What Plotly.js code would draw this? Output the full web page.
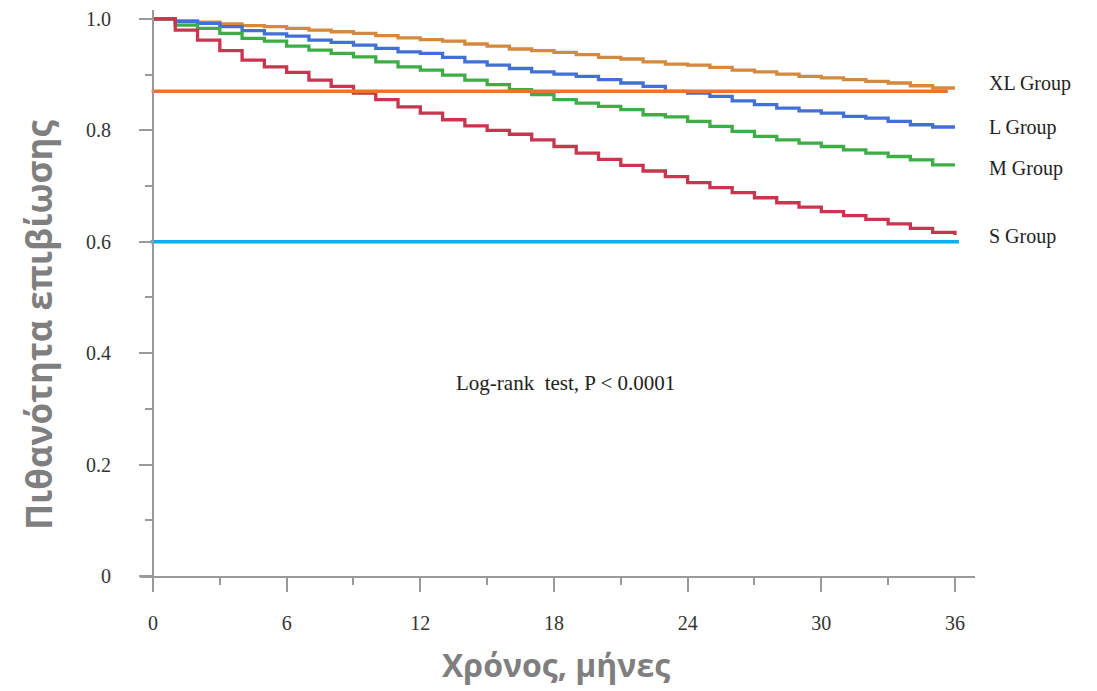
<!DOCTYPE html>
<html>
<head>
<meta charset="utf-8">
<script src="https://cdn.plot.ly/plotly-3.0.1.min.js"></script>
<style>html,body{margin:0;padding:0;background:#fff;}#chart{width:1097px;height:691px;}</style>
</head>
<body>
<div id="chart"></div>
<script>
// Months of follow-up (step times)
const months = [0,1,2,3,4,5,6,7,8,9,10,11,12,13,14,15,16,17,18,19,20,21,22,23,24,25,26,27,28,29,30,31,32,33,34,35,36];

// Kaplan-Meier survival estimates per group
const survXL = [1.0,0.997,0.994,0.991,0.988,0.986,0.983,0.980,0.977,0.974,0.970,0.966,0.963,0.960,0.955,0.951,0.946,0.943,0.940,0.936,0.931,0.928,0.923,0.919,0.917,0.913,0.908,0.905,0.901,0.897,0.894,0.891,0.888,0.885,0.880,0.876,0.876];
const survL  = [1.0,0.995,0.992,0.986,0.979,0.973,0.969,0.962,0.958,0.953,0.947,0.941,0.938,0.931,0.923,0.917,0.911,0.905,0.901,0.897,0.891,0.885,0.879,0.870,0.867,0.861,0.853,0.846,0.840,0.835,0.831,0.825,0.822,0.816,0.810,0.806,0.806];
const survM  = [1.0,0.989,0.983,0.974,0.965,0.960,0.951,0.944,0.938,0.932,0.923,0.914,0.908,0.899,0.890,0.882,0.873,0.864,0.855,0.849,0.843,0.837,0.828,0.824,0.816,0.807,0.798,0.789,0.783,0.777,0.771,0.765,0.759,0.753,0.747,0.738,0.738];
const survS  = [1.0,0.980,0.962,0.943,0.926,0.914,0.904,0.890,0.879,0.867,0.855,0.842,0.831,0.819,0.808,0.800,0.793,0.783,0.771,0.759,0.748,0.737,0.727,0.717,0.706,0.697,0.688,0.679,0.670,0.662,0.654,0.647,0.640,0.632,0.624,0.617,0.612];

const groupNames = ["XL Group","L Group","M Group","S Group"];

// Horizontal reference lines: level, start month, end month
const refOrangeLevel = [0.87, 0.87];
const refOrangeX = [-0.06, 35.68];
const refBlueLevel = [0.60, 0.60];
const refBlueX = [-0.1, 36.18];

// Axis ticks
const xTicks = [0,6,12,18,24,30,36];
const yTicks = [0,0.2,0.4,0.6,0.8,1.0];
const yTickText = ["0","0.2","0.4","0.6","0.8","1.0"];

const colXL = "#D4893E", colL = "#4270D6", colM = "#3CAE45", colS = "#C9344F";

function km(y, color, name){
  return {x: months, y: y, type: "scatter", mode: "lines", name: name,
          line: {shape: "hv", color: color, width: 3.3}, hoverinfo: "skip"};
}

const traces = [
  km(survXL, colXL, groupNames[0]),
  km(survL, colL, groupNames[1]),
  km(survM, colM, groupNames[2]),
  km(survS, colS, groupNames[3]),
  {x: refOrangeX, y: refOrangeLevel, type: "scatter", mode: "lines", line: {color: "#EC7232", width: 3.5}, hoverinfo: "skip"},
  {x: refBlueX, y: refBlueLevel, type: "scatter", mode: "lines", line: {color: "#00B0F0", width: 3.5}, hoverinfo: "skip"}
];

const serif = "Liberation Serif, Times New Roman, serif";
const axisCol = "#9a9a9a";

const layout = {
  width: 1097, height: 691,
  margin: {l: 140, r: 122, t: 10, b: 115, pad: 0},
  paper_bgcolor: "#ffffff", plot_bgcolor: "#ffffff",
  showlegend: false,
  xaxis: {
    range: [-0.583, 36.9], showgrid: false, zeroline: false,
    showline: true, linecolor: axisCol, linewidth: 2,
    ticks: "outside", ticklen: 14, tickwidth: 2, tickcolor: axisCol,
    tickvals: xTicks, ticktext: xTicks.map(String),
    minor: {tickvals: [3,9,15,21,27,33], ticks: "outside", ticklen: 7, tickwidth: 2, tickcolor: axisCol, showgrid: false},
    tickfont: {family: serif, size: 20, color: "#333"},
    ticklabelstandoff: 14
  },
  yaxis: {
    range: [0, 1.016], showgrid: false, zeroline: false,
    anchor: "free", position: 13/835,
    showline: true, linecolor: axisCol, linewidth: 2,
    ticks: "outside", ticklen: 13, tickwidth: 2, tickcolor: axisCol,
    tickvals: yTicks, ticktext: yTickText,
    minor: {tickvals: [0.1,0.3,0.5,0.7,0.9], ticks: "outside", ticklen: 7, tickwidth: 2, tickcolor: axisCol, showgrid: false},
    tickfont: {family: serif, size: 20, color: "#333"},
    ticklabelstandoff: 24
  },
  annotations: [
    {xref: "paper", yref: "y", x: 1.0144, y: 0.884, xanchor: "left", yanchor: "middle", text: groupNames[0], showarrow: false, font: {family: serif, size: 20, color: "#222"}},
    {xref: "paper", yref: "y", x: 1.0144, y: 0.805, xanchor: "left", yanchor: "middle", text: groupNames[1], showarrow: false, font: {family: serif, size: 20, color: "#222"}},
    {xref: "paper", yref: "y", x: 1.0144, y: 0.731, xanchor: "left", yanchor: "middle", text: groupNames[2], showarrow: false, font: {family: serif, size: 20, color: "#222"}},
    {xref: "paper", yref: "y", x: 1.0144, y: 0.609, xanchor: "left", yanchor: "middle", text: groupNames[3], showarrow: false, font: {family: serif, size: 20, color: "#222"}},
    {xref: "x", yref: "y", x: 18.5, y: 0.3465, xanchor: "center", yanchor: "middle", text: "Log-rank&nbsp; test, P < 0.0001", showarrow: false, font: {family: serif, size: 21, color: "#222"}},
    {xref: "paper", yref: "paper", x: (556-140)/835, y: -(664-576)/566, xanchor: "center", yanchor: "middle", text: "<b>Χρόνος, μήνες</b>", showarrow: false, font: {family: "Open Sans, sans-serif", size: 32, color: "#7f7f7f"}},
    {xref: "paper", yref: "paper", x: (38-140)/835, y: (576-325)/566, xanchor: "center", yanchor: "middle", textangle: -90, text: "<b>Πιθανότητα επιβίωσης</b>", showarrow: false, font: {family: "Open Sans, sans-serif", size: 35, color: "#7f7f7f"}}
  ]
};

Plotly.newPlot("chart", traces, layout, {displayModeBar: false, staticPlot: true});
</script>
</body>
</html>
